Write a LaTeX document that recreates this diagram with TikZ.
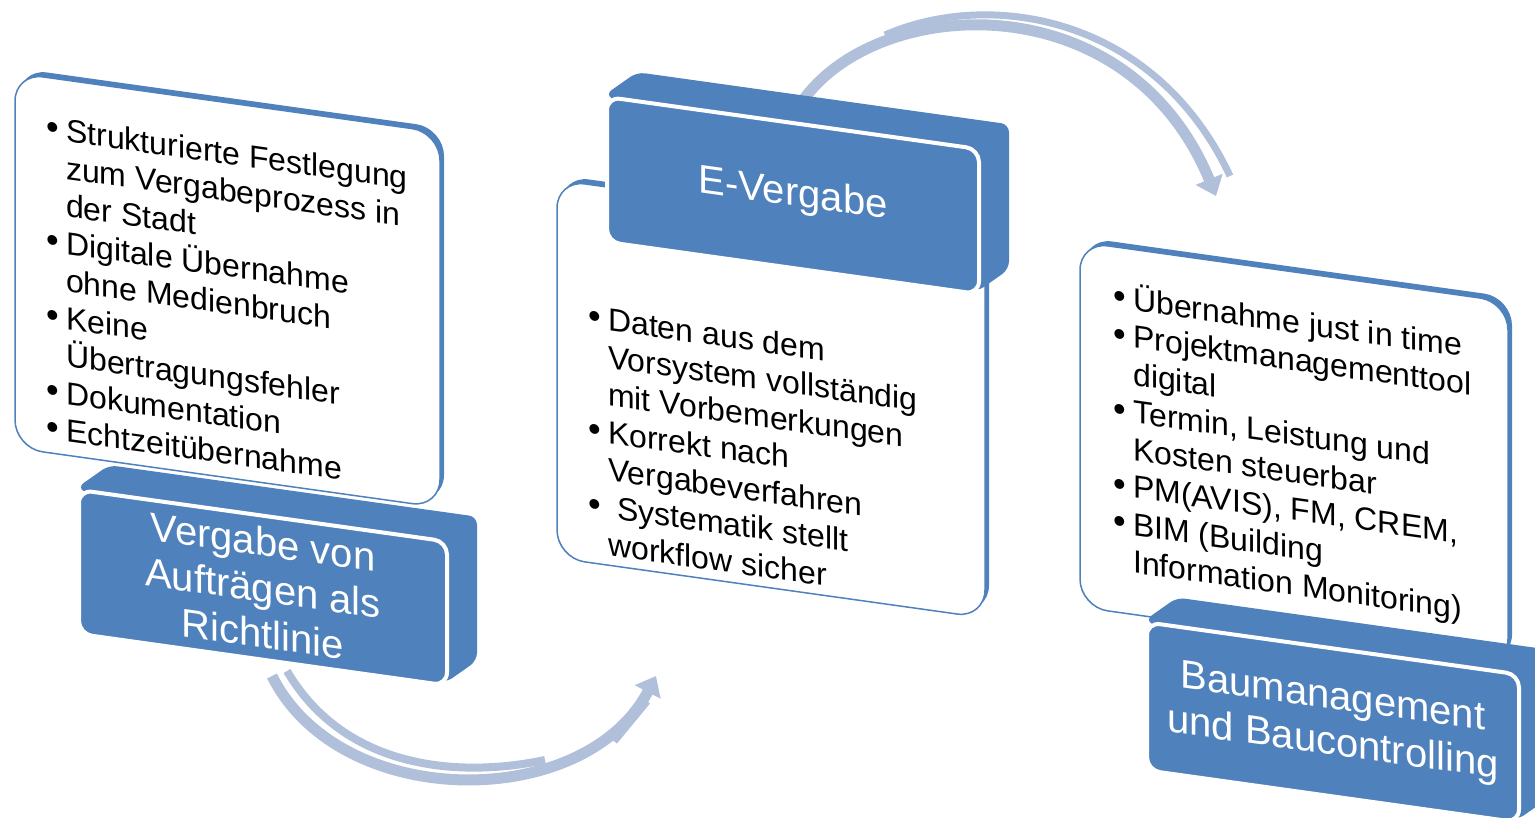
\documentclass[tikz,border=0pt]{standalone}
\usepackage{fontspec}
\setmainfont{Liberation Sans}
\usetikzlibrary{arrows.meta}
\definecolor{boxblue}{HTML}{4F81BD}
\definecolor{arrowblue}{HTML}{B0BFDA}

\newcommand{\bul}{\makebox[18pt][l]{\hspace*{-2pt}\raisebox{0pt}{\fontsize{36}{36}\selectfont\textbullet}}}
\newcommand{\ind}{\hspace*{18pt}}

\begin{document}
\begin{tikzpicture}[x=1pt, y=-1pt,
	card/.style={fill=white, draw=boxblue, line width=1.5pt, rounded corners=28pt},
	shade/.style={fill=boxblue, rounded corners=28pt},
	depth/.style={fill=boxblue, rounded corners=8pt},
	face/.style={fill=boxblue, draw=white, line width=4pt, rounded corners=13pt,
		text=white, font=\fontsize{40}{46}\selectfont, align=center, inner sep=0pt, anchor=north west},
	bullets/.style={anchor=north west, inner sep=0pt, align=left, font=\fontsize{32}{37.5}\selectfont},
	ribbon/.style={draw=arrowblue, line width=11pt},
	]

	\useasboundingbox (0,0) rectangle (1535,818);

	% bottom arrow: Richtlinie -> E-Vergabe
	\coordinate (bendAfrom) at (272,676);
	\coordinate (bendAto) at (656,676);
	\coordinate (bendAback) at (287,671);
	\coordinate (bendAbackend) at (545,760);
	\coordinate (bendAstub) at (615,742);
	\coordinate (bendAstubend) at (648,702);
	\draw[ribbon, line width=8pt] (bendAback) .. controls (345,770) and (460,778) .. (bendAbackend); % depth band
	\draw[ribbon, line width=5pt] (bendAstub) -- (bendAstubend);
	\draw[ribbon, -{Triangle[width=28pt,length=18pt]}] (bendAfrom) .. controls (340,812) and (585,812) .. (bendAto);

	% top arrow: E-Vergabe -> Baumanagement
	\coordinate (bendBfrom) at (795,113);
	\coordinate (bendBto) at (1216,196);
	\coordinate (bendBback) at (885,35);
	\coordinate (bendBbackend) at (1230,176);
	\draw[ribbon, line width=7pt] (bendBback) .. controls (990,-11) and (1155,16) .. (bendBbackend); % depth band
	\draw[ribbon, -{Triangle[width=28pt,length=18pt]}] (bendBfrom) .. controls (860,-5) and (1125,-25) .. (bendBto);

	% left panel
	\begin{scope}[shift={(15,73)}, yslant=-0.14, transform shape]
		\fill[shade] (4,-5) rectangle ++(425,375);
		\draw[card] (0,0) rectangle (425,375);
		\node[bullets] (listA) at (33,38) {\bul Strukturierte Festlegung\\ \ind zum Vergabeprozess in\\ \ind der Stadt\\
			\bul Digitale Übernahme\\ \ind ohne Medienbruch\\ \bul Keine\\ \ind Übertragungsfehler\\
			\bul Dokumentation\\ \bul Echtzeitübernahme};
		\fill[depth] (62,406) -- ++(32,-27) -- ++(368,0) -- ++(0,144) -- ++(-32,27) -- cycle;
		\node[face, minimum width=368pt, minimum height=144pt] (richtlinie) at (62,406) {Vergabe von\\Aufträgen als\\Richtlinie};
	\end{scope}

	% middle panel
	\begin{scope}[shift={(557,180)}, yslant=-0.14, transform shape]
		\fill[shade] (4,-5) rectangle ++(428,378);
		\draw[card] (0,0) rectangle (428,378);
		\node[bullets] (listB) at (33,120) {\bul Daten aus dem\\ \ind Vorsystem vollständig\\ \ind mit Vorbemerkungen\\
			\bul Korrekt nach\\ \ind Vergabeverfahren\\ \bul\ Systematik stellt\\ \ind workflow sicher};
		\fill[depth] (48,-92) -- ++(32,-27) -- ++(372,0) -- ++(0,145) -- ++(-32,27) -- cycle;
		\node[face, minimum width=372pt, minimum height=145pt] (evergabe) at (48,-92) {E-Vergabe};
	\end{scope}

	% right panel
	\begin{scope}[shift={(1080,242)}, yslant=-0.14, transform shape]
		\fill[shade] (4,-5) rectangle ++(428,365);
		\draw[card] (0,0) rectangle (428,365);
		\node[bullets] (listC) at (35,34) {\bul Übernahme just in time\\ \bul Projektmanagementtool\\ \ind digital\\
			\bul Termin, Leistung und\\ \ind Kosten steuerbar\\ \bul PM(AVIS), FM, CREM,\\
			\bul BIM (Building\\ \ind Information Monitoring)};
		\fill[depth] (65,369) -- ++(32,-27) -- ++(372,0) -- ++(0,148) -- ++(-32,27) -- cycle;
		\node[face, minimum width=372pt, minimum height=148pt] (baumanagement) at (65,369) {Baumanagement\\und Baucontrolling};
	\end{scope}

\end{tikzpicture}
\end{document}
